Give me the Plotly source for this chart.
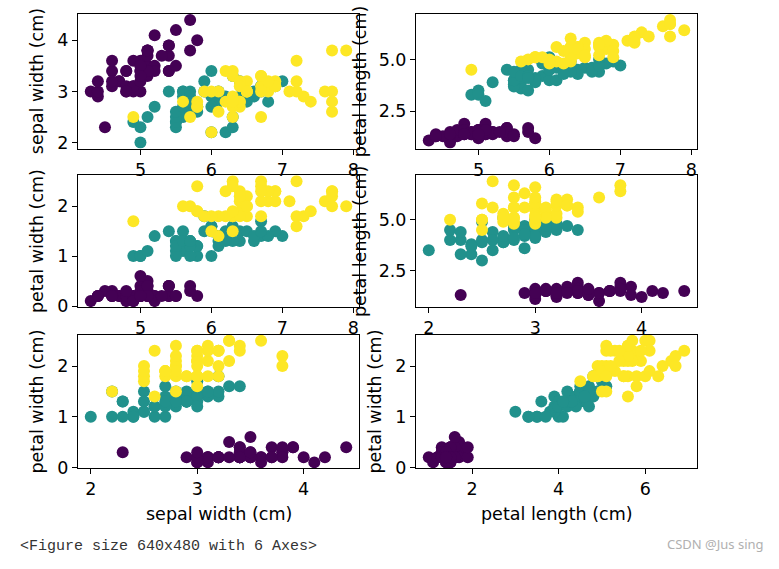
import plotly.graph_objects as go

# Iris dataset (sklearn version)
sepal_length = [5.1,4.9,4.7,4.6,5.0,5.4,4.6,5.0,4.4,4.9,5.4,4.8,4.8,4.3,5.8,5.7,5.4,5.1,5.7,5.1,
                5.4,5.1,4.6,5.1,4.8,5.0,5.0,5.2,5.2,4.7,4.8,5.4,5.2,5.5,4.9,5.0,5.5,4.9,4.4,5.1,
                5.0,4.5,4.4,5.0,5.1,4.8,5.1,4.6,5.3,5.0,
                7.0,6.4,6.9,5.5,6.5,5.7,6.3,4.9,6.6,5.2,5.0,5.9,6.0,6.1,5.6,6.7,5.6,5.8,6.2,5.6,
                5.9,6.1,6.3,6.1,6.4,6.6,6.8,6.7,6.0,5.7,5.5,5.5,5.8,6.0,5.4,6.0,6.7,6.3,5.6,5.5,
                5.5,6.1,5.8,5.0,5.6,5.7,5.7,6.2,5.1,5.7,
                6.3,5.8,7.1,6.3,6.5,7.6,4.9,7.3,6.7,7.2,6.5,6.4,6.8,5.7,5.8,6.4,6.5,7.7,7.7,6.0,
                6.9,5.6,7.7,6.3,6.7,7.2,6.2,6.1,6.4,7.2,7.4,7.9,6.4,6.3,6.1,7.7,6.3,6.4,6.0,6.9,
                6.7,6.9,5.8,6.8,6.7,6.7,6.3,6.5,6.2,5.9]
sepal_width = [3.5,3.0,3.2,3.1,3.6,3.9,3.4,3.4,2.9,3.1,3.7,3.4,3.0,3.0,4.0,4.4,3.9,3.5,3.8,3.8,
               3.4,3.7,3.6,3.3,3.4,3.0,3.4,3.5,3.4,3.2,3.1,3.4,4.1,4.2,3.1,3.2,3.5,3.6,3.0,3.4,
               3.5,2.3,3.2,3.5,3.8,3.0,3.8,3.2,3.7,3.3,
               3.2,3.2,3.1,2.3,2.8,2.8,3.3,2.4,2.9,2.7,2.0,3.0,2.2,2.9,2.9,3.1,3.0,2.7,2.2,2.5,
               3.2,2.8,2.5,2.8,2.9,3.0,2.8,3.0,2.9,2.6,2.4,2.4,2.7,2.7,3.0,3.4,3.1,2.3,3.0,2.5,
               2.6,3.0,2.6,2.3,2.7,3.0,2.9,2.9,2.5,2.8,
               3.3,2.7,3.0,2.9,3.0,3.0,2.5,2.9,2.5,3.6,3.2,2.7,3.0,2.5,2.8,3.2,3.0,3.8,2.6,2.2,
               3.2,2.8,2.8,2.7,3.3,3.2,2.8,3.0,2.8,3.0,2.8,3.8,2.8,2.8,2.6,3.0,3.4,3.1,3.0,3.1,
               3.1,3.1,2.7,3.2,3.3,3.0,2.5,3.0,3.4,3.0]
petal_length = [1.4,1.4,1.3,1.5,1.4,1.7,1.4,1.5,1.4,1.5,1.5,1.6,1.4,1.1,1.2,1.5,1.3,1.4,1.7,1.5,
                1.7,1.5,1.0,1.7,1.9,1.6,1.6,1.5,1.4,1.6,1.6,1.5,1.5,1.4,1.5,1.2,1.3,1.4,1.3,1.5,
                1.3,1.3,1.3,1.6,1.9,1.4,1.6,1.4,1.5,1.4,
                4.7,4.5,4.9,4.0,4.6,4.5,4.7,3.3,4.6,3.9,3.5,4.2,4.0,4.7,3.6,4.4,4.5,4.1,4.5,3.9,
                4.8,4.0,4.9,4.7,4.3,4.4,4.8,5.0,4.5,3.5,3.8,3.7,3.9,5.1,4.5,4.5,4.7,4.4,4.1,4.0,
                4.4,4.6,4.0,3.3,4.2,4.2,4.2,4.3,3.0,4.1,
                6.0,5.1,5.9,5.6,5.8,6.6,4.5,6.3,5.8,6.1,5.1,5.3,5.5,5.0,5.1,5.3,5.5,6.7,6.9,5.0,
                5.7,4.9,6.7,4.9,5.7,6.0,4.8,4.9,5.6,5.8,6.1,6.4,5.6,5.1,5.6,6.1,5.6,5.5,4.8,5.4,
                5.6,5.1,5.1,5.9,5.7,5.2,5.0,5.2,5.4,5.1]
petal_width = [0.2,0.2,0.2,0.2,0.2,0.4,0.3,0.2,0.2,0.1,0.2,0.2,0.1,0.1,0.2,0.4,0.4,0.3,0.3,0.3,
               0.2,0.4,0.2,0.5,0.2,0.2,0.4,0.2,0.2,0.2,0.2,0.4,0.1,0.2,0.2,0.2,0.2,0.1,0.2,0.2,
               0.3,0.3,0.2,0.6,0.4,0.3,0.2,0.2,0.2,0.2,
               1.4,1.5,1.5,1.3,1.5,1.3,1.6,1.0,1.3,1.4,1.0,1.5,1.0,1.4,1.3,1.4,1.5,1.0,1.5,1.1,
               1.8,1.3,1.5,1.2,1.3,1.4,1.4,1.7,1.5,1.0,1.1,1.0,1.2,1.6,1.5,1.6,1.5,1.3,1.3,1.3,
               1.2,1.4,1.2,1.0,1.3,1.2,1.3,1.3,1.1,1.3,
               2.5,1.9,2.1,1.8,2.2,2.1,1.7,1.8,1.8,2.5,2.0,1.9,2.1,2.0,2.4,2.3,1.8,2.2,2.3,1.5,
               2.3,2.0,2.0,1.8,2.1,1.8,1.8,1.8,2.1,1.6,1.9,2.0,2.2,1.5,1.4,2.3,2.4,1.8,1.8,2.1,
               2.4,2.3,1.9,2.3,2.5,2.3,1.9,2.0,2.3,1.8]
target = [0]*50 + [1]*50 + [2]*50

class_colors = ["#440154", "#21918c", "#fde725"]

features = {
    "sepal length (cm)": sepal_length,
    "sepal width (cm)": sepal_width,
    "petal length (cm)": petal_length,
    "petal width (cm)": petal_width,
}
# (x feature, y feature) for each subplot, row-major
pairs = [
    ("sepal length (cm)", "sepal width (cm)"),
    ("sepal length (cm)", "petal length (cm)"),
    ("sepal length (cm)", "petal width (cm)"),
    ("sepal width (cm)", "petal length (cm)"),
    ("sepal width (cm)", "petal width (cm)"),
    ("petal length (cm)", "petal width (cm)"),
]
tickvals = {
    "sepal length (cm)": [5, 6, 7, 8],
    "sepal width (cm)": [2, 3, 4],
    "petal length (cm)": [2.5, 5.0],
    "petal width (cm)": [0, 1, 2],
}
ticktext = {
    "sepal length (cm)": ["5", "6", "7", "8"],
    "sepal width (cm)": ["2", "3", "4"],
    "petal length (cm)": ["2.5", "5.0"],
    "petal width (cm)": ["0", "1", "2"],
}
tickvals_x_petal_length = [2, 4, 6]

W, H = 779, 569
col_px = [(78, 359), (416, 697)]
row_px = [(14, 151), (178, 312), (340, 476)]
ylabel_x_px = [[37, 360], [37, 360], [37, 375]]

def rng(v):
    lo, hi = min(v), max(v)
    m = (hi - lo) * 0.05
    return [lo - m, hi + m]

colors = [class_colors[t] for t in target]
font = "DejaVu Sans"
fs = 17.5
fig = go.Figure()
annotations = []
for i, (fx, fy) in enumerate(pairs):
    r, c = divmod(i, 2)
    n = i + 1
    xa = "x" if n == 1 else f"x{n}"
    ya = "y" if n == 1 else f"y{n}"
    fig.add_trace(go.Scatter(
        x=features[fx], y=features[fy], mode="markers",
        marker=dict(color=colors, size=12, line=dict(width=0)),
        xaxis=xa, yaxis=ya, showlegend=False, hoverinfo="skip"))
    x0, x1 = col_px[c]
    y0, y1 = row_px[r]
    xtv = tickvals_x_petal_length if fx == "petal length (cm)" else tickvals[fx]
    xtt = [str(v) for v in xtv] if fx == "petal length (cm)" else ticktext[fx]
    common = dict(showline=True, linecolor="black", linewidth=1, mirror=True,
                  ticks="outside", ticklen=5, tickwidth=1, tickcolor="black",
                  showgrid=False, zeroline=False,
                  tickfont=dict(family=font, size=fs, color="black"))
    fig.layout[f"xaxis{'' if n == 1 else n}"] = dict(
        domain=[x0 / W, x1 / W], anchor=ya, range=rng(features[fx]),
        tickmode="array", tickvals=xtv, ticktext=xtt, **common)
    fig.layout[f"yaxis{'' if n == 1 else n}"] = dict(
        domain=[1 - y1 / H, 1 - y0 / H], anchor=xa, range=rng(features[fy]),
        tickmode="array", tickvals=tickvals[fy], ticktext=ticktext[fy], **common)
    annotations.append(dict(
        text=fy, xref="paper", yref="paper", x=ylabel_x_px[r][c] / W,
        y=1 - (y0 + y1) / 2 / H, textangle=-90, showarrow=False,
        xanchor="center", yanchor="middle",
        font=dict(family=font, size=fs, color="black")))
    if r == 2:
        annotations.append(dict(
            text=fx, xref="paper", yref="paper", x=(x0 + x1) / 2 / W,
            y=1 - 522 / H, showarrow=False, xanchor="center", yanchor="middle",
            font=dict(family=font, size=fs, color="black")))

annotations.append(dict(
    text="&lt;Figure size 640x480 with 6 Axes&gt;", xref="paper", yref="paper",
    x=18 / W, y=1 - 555 / H, showarrow=False, xanchor="left", yanchor="middle",
    font=dict(family="Liberation Mono", size=15, color="#333333")))
annotations.append(dict(
    text="CSDN @Jus sing", xref="paper", yref="paper",
    x=766 / W, y=1 - 553 / H, showarrow=False, xanchor="right", yanchor="middle",
    font=dict(family="Noto Sans", size=13, color="#b0b0b0")))

fig.update_layout(
    width=W, height=H, margin=dict(l=0, r=0, t=0, b=0),
    paper_bgcolor="white", plot_bgcolor="white",
    annotations=annotations)

fig.write_html("out.html")
